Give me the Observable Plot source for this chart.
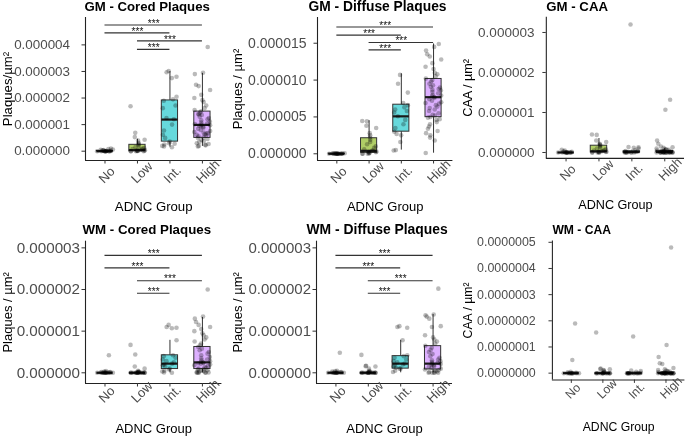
<!DOCTYPE html>
<html><head><meta charset="utf-8">
<script src="https://cdn.jsdelivr.net/npm/d3@7"></script>
<script src="https://cdn.jsdelivr.net/npm/@observablehq/plot@0.6"></script>
<style>
html,body{margin:0;padding:0;background:#fff;overflow:hidden;width:685px;height:437px;}
#wrap{position:relative;width:685px;height:437px;overflow:hidden;will-change:transform;}
.panel{position:absolute;}
.panel svg{overflow:visible;font-family:"Liberation Sans",Arial,Helvetica,sans-serif;background:transparent;}
g[aria-label="y-axis tick"], g[aria-label="x-axis tick"]{stroke:#333;}
g[aria-label="y-axis tick label"]{fill:#4d4d4d;}
</style></head><body><div id="wrap"></div>
<script>
// ---------- shared ----------
const groups = ["No", "Low", "Int.", "High"];
const groupColors = ["#F8766D", "#7CAE00", "#00BFC4", "#C77CFF"];
const xTitle = "ADNC Group";
const sigLabel = "***";

// ---------- GM - Cored Plaques (values x 1e-6 per µm²) ----------
const gmCoredNo = [0,0,0,0,0,0,0,0,0,0,0.01,0.01,0.02,0.02,0.03,0.04,0.05,0.06,0.08,0.1];
const gmCoredLow = [1.69,0.69,0.53,0.43,0.4,0.32,0.28,0.24,0.2,0.16,0.12,0.1,0.08,0.06,0.05,0.04,0.03,0.02,0.02,0.01,0.01,0,0,0,0];
const gmCoredInt = [3.02,2.97,2.8,2.75,2.05,1.95,1.9,1.72,1.62,1.25,1.2,1.0,0.78,0.62,0.5,0.36,0.3,0.25,0.2,0.18,0.15,0.28];
const gmCoredHigh = [3.92,2.95,2.9,2.5,2.45,2.3,2.12,2.0,1.92,1.85,1.72,1.62,1.55,1.5,1.45,1.4,1.36,1.3,1.25,1.2,1.16,1.12,1.08,1.04,1.0,0.98,0.95,0.92,0.88,0.84,0.8,0.76,0.72,0.68,0.64,0.6,0.56,0.52,0.5,0.46,0.42,0.38,0.35,0.3,0.27,0.24,0.22,0.2,0.18,0.62,0.66,1.02,0.96,1.38,0.7];
// box stats: [lower whisker, Q1, median, Q3, upper whisker]
const gmCoredBox = [[0,0,0,0.01,0.03],[0,0.005,0.04,0.24,0.45],[0.15,0.36,1.19,1.91,3.0],[0.18,0.5,0.99,1.49,2.93]];
// brackets: [group from, group to, height]
const gmCoredSig = [[1,4,4.75],[1,3,4.45],[2,4,4.15],[2,3,3.83]];

// ---------- GM - Diffuse Plaques (x 1e-6) ----------
const gmDiffNo = [0,0,0,0,0,0,0,0,0,0,0,0.01,0.02,0.03,0.04,0.05,0.06,0.08];
const gmDiffLow = [4.45,4.4,3.8,3.5,2.8,2.5,2.2,1.9,1.6,1.3,1.0,0.8,0.6,0.45,0.4,0.3,0.25,0.2,0.15,0.1,0.05,0.02,0,0];
const gmDiffInt = [10.7,9.5,8.3,6.9,6.6,6.3,6.0,5.8,5.6,5.1,4.6,4.0,3.5,3.0,2.7,2.5,1.6,0.5,0.45];
const gmDiffHigh = [14.9,14.5,14.0,13.5,13.2,12.8,12.3,11.8,11.5,11.0,10.8,10.5,10.2,10.0,9.8,9.5,9.3,9.1,9.0,8.8,8.7,8.6,8.4,8.2,8.0,7.9,7.8,7.7,7.6,7.4,7.2,7.0,6.9,6.8,6.6,6.4,6.2,6.0,5.8,5.5,5.3,5.2,5.0,4.9,4.7,4.6,4.3,4.0,3.7,3.4,3.1,2.8,2.5,2.2,1.8,0.1];
const gmDiffBox = [[0,0,0,0.01,0.03],[0,0.13,0.4,2.11,4.5],[0.5,3.0,5.08,6.66,10.85],[0.08,4.97,7.68,10.15,14.9]];
const gmDiffSig = [[1,4,17.2],[1,3,16.1],[2,4,15.1],[2,3,14.1]];

// ---------- GM - CAA (x 1e-6) ----------
const gmCaaNo = [0,0,0,0,0,0,0,0,0,0,0,0,0.01,0.02,0.03,0.05,0.07];
const gmCaaLow = [0.45,0.44,0.3,0.26,0.22,0.2,0.18,0.15,0.12,0.1,0.08,0.06,0.05,0.04,0.03,0.02,0.02,0.01,0.01,0,0,0,0,0];
const gmCaaInt = [3.2,0.14,0.13,0.12,0.1,0.06,0.04,0.03,0.02,0.01,0.01,0,0,0,0,0,0,0];
const gmCaaHigh = [1.32,1.07,0.3,0.22,0.15,0.13,0.12,0.1,0.09,0.08,0.07,0.06,0.05,0.04,0.04,0.03,0.03,0.02,0.02,0.02,0.01,0.01,0.01,0.01,0,0,0,0,0,0,0,0,0,0,0,0,0,0,0,0];
const gmCaaBox = [[0,0,0,0,0.01],[0,0.005,0.03,0.17,0.35],[0,0,0.01,0.03,0.06],[0,0,0.01,0.04,0.1]];
const gmCaaSig = [];

// ---------- WM - Cored Plaques (x 1e-6) ----------
const wmCoredNo = [0.42,0.04,0.03,0.02,0.02,0.01,0.01,0,0,0,0,0,0,0,0,0,0,0,0];
const wmCoredLow = [0.67,0.44,0.15,0.1,0.05,0.03,0.02,0.01,0.01,0,0,0,0,0,0,0,0,0,0,0,0,0,0,0];
const wmCoredInt = [1.15,1.1,1.08,1.07,0.78,0.42,0.4,0.36,0.32,0.28,0.25,0.22,0.2,0.18,0.15,0.1,0.08,0.05,0.03,0.01,0];
const wmCoredHigh = [2.0,1.35,1.3,1.22,1.15,1.1,1.05,1.0,0.95,0.9,0.85,0.8,0.75,0.7,0.66,0.62,0.58,0.54,0.5,0.46,0.42,0.38,0.35,0.32,0.3,0.28,0.26,0.25,0.24,0.23,0.22,0.2,0.18,0.16,0.14,0.12,0.1,0.09,0.08,0.06,0.05,0.04,0.03,0.02,0.01,0.01,0,0,0,0];
const wmCoredBox = [[0,0,0,0,0.02],[0,0,0,0,0.01],[0,0.09,0.22,0.42,0.78],[0,0.09,0.25,0.62,1.33]];
const wmCoredSig = [[1,4,2.82],[1,3,2.52],[2,4,2.21],[2,3,1.91]];

// ---------- WM - Diffuse Plaques (x 1e-6) ----------
const wmDiffNo = [0.48,0.05,0.04,0.03,0.02,0.01,0,0,0,0,0,0,0,0,0,0,0,0];
const wmDiffLow = [0.43,0.17,0.16,0.15,0.1,0.05,0.03,0.02,0.01,0,0,0,0,0,0,0,0,0,0,0,0,0,0];
const wmDiffInt = [1.12,1.1,1.08,0.78,0.42,0.4,0.36,0.32,0.28,0.25,0.22,0.2,0.18,0.15,0.12,0.1,0.1,0.05,0.02];
const wmDiffHigh = [2.02,1.4,1.38,1.35,1.3,1.12,1.1,0.9,0.85,0.8,0.75,0.7,0.65,0.6,0.55,0.5,0.45,0.4,0.36,0.32,0.3,0.28,0.26,0.24,0.22,0.21,0.2,0.18,0.16,0.14,0.12,0.1,0.08,0.06,0.05,0.03,0.02,0.01,0,0,0,0];
const wmDiffBox = [[0,0,0,0,0.02],[0,0,0,0,0.01],[0,0.1,0.22,0.4,0.78],[0,0.08,0.22,0.64,1.4]];
const wmDiffSig = [[1,4,2.82],[1,3,2.52],[2,4,2.21],[2,3,1.91]];

// ---------- WM - CAA (x 1e-7) ----------
const wmCaaNo = [1.9,0.5,0.05,0.03,0.02,0.01,0,0,0,0,0,0,0,0,0,0,0,0];
const wmCaaLow = [1.55,0.18,0.16,0.15,0.12,0.1,0.06,0.04,0.02,0,0,0,0,0,0,0,0,0,0,0,0,0,0];
const wmCaaInt = [1.4,0.1,0.08,0.05,0.02,0,0,0,0,0,0,0,0,0,0,0,0,0,0];
const wmCaaHigh = [4.8,1.08,0.62,0.38,0.35,0.2,0.15,0.12,0.1,0.08,0.06,0.05,0.04,0.03,0.02,0.01,0,0,0,0,0,0,0,0,0,0,0,0,0,0,0,0,0,0,0,0,0,0,0,0];
const wmCaaBox = [[0,0,0,0,0],[0,0,0,0,0.01],[0,0,0,0,0],[0,0,0,0.01,0.03]];
const wmCaaSig = [];

// ---------- panel layout (each sub-figure has its own scale, as in the source) ----------
const panels = [
  {title:"GM - Cored Plaques", ylabel:"Plaques/µm²", points:[gmCoredNo,gmCoredLow,gmCoredInt,gmCoredHigh], box:gmCoredBox, sig:gmCoredSig,
   ticks:[0,1,2,3,4], unit:1e-6, dec:6, domain:[-0.35,5.03],
   left:0, top:0, width:228, height:218, mL:85, mR:6.6, mT:17, mB:58,
   titleFs:13.2, tickFs:13.4, tickPad:12, labFs:13.2, xtFs:13, xtDy:23.5,
   tDx:-1, tDy:-6.5, yDx:-77.5, xDy:46.7},
  {title:"GM - Diffuse Plaques", ylabel:"Plaques / µm²", points:[gmDiffNo,gmDiffLow,gmDiffInt,gmDiffHigh], box:gmDiffBox, sig:gmDiffSig,
   ticks:[0,5,10,15], unit:1e-6, dec:6, domain:[-0.91,18.49],
   left:228, top:0, width:228, height:218, mL:89, mR:3.6, mT:17, mB:58,
   titleFs:13.8, tickFs:14, tickPad:7.5, labFs:13, xtFs:13, xtDy:23.5,
   tDx:-9, tDy:-6.5, yDx:-80, xDy:46.7},
  {title:"GM - CAA", ylabel:"CAA / µm²", points:[gmCaaNo,gmCaaLow,gmCaaInt,gmCaaHigh], box:gmCaaBox, sig:gmCaaSig,
   ticks:[0,1,2,3], unit:1e-6, dec:6, domain:[-0.148,3.38],
   left:456, top:0, width:232, height:218, mL:91, mR:1, mT:17, mB:58,
   titleFs:13.4, tickFs:13.7, tickPad:8.5, labFs:12.8, xtFs:13, xtDy:23.5,
   tDx:0, tDy:-6.5, yDx:-79, xDy:46.7},
  {title:"WM - Cored Plaques", ylabel:"Plaques / µm²", points:[wmCoredNo,wmCoredLow,wmCoredInt,wmCoredHigh], box:wmCoredBox, sig:wmCoredSig,
   ticks:[0,1,2,3], unit:1e-6, dec:6, domain:[-0.257,3.16],
   left:0, top:218, width:228, height:219, mL:85, mR:6.6, mT:22.7, mB:54,
   titleFs:13.3, tickFs:15.2, tickPad:2, labFs:13, xtFs:13, xtDy:20,
   tDx:-3, tDy:-7.7, yDx:-78, xDy:45.7},
  {title:"WM - Diffuse Plaques", ylabel:"Plaques / µm²", points:[wmDiffNo,wmDiffLow,wmDiffInt,wmDiffHigh], box:wmDiffBox, sig:wmDiffSig,
   ticks:[0,1,2,3], unit:1e-6, dec:6, domain:[-0.257,3.16],
   left:228, top:218, width:228, height:219, mL:88, mR:4, mT:22.7, mB:54,
   titleFs:13.9, tickFs:15, tickPad:2, labFs:13, xtFs:13, xtDy:20,
   tDx:-10, tDy:-7.7, yDx:-79, xDy:45.7},
  {title:"WM - CAA", ylabel:"CAA / µm²", points:[wmCaaNo,wmCaaLow,wmCaaInt,wmCaaHigh], box:wmCaaBox, sig:wmCaaSig,
   ticks:[0,1,2,3,4,5], unit:1e-7, dec:7, domain:[-0.26,5.05],
   left:456, top:218, width:234, height:219, mL:98, mR:0.6, mT:23, mB:54,
   titleFs:12.4, tickFs:12.7, tickPad:13.5, labFs:12.5, xtFs:12.5, xtDy:20,
   tDx:0, tDy:-7.3, yDx:-86, xDy:48}
];

const FONT = '"Liberation Sans",Arial,Helvetica,sans-serif';

// deterministic pseudo-random horizontal jitter (position only, not data)
function jitterOffset(g, k) {
  const s = Math.sin((k + 1) * 12.9898 + (g + 1) * 78.233) * 43758.5453;
  return (s - Math.floor(s)) - 0.5;
}

function makePanel(p) {
  const pts = [];
  p.points.forEach((arr, g) => arr.forEach((v, k) => pts.push({g, v, k})));
  const boxes = p.box.map((b, g) => ({g, lo: b[0], q1: b[1], med: b[2], q3: b[3], hi: b[4]}));
  const br = p.sig.map(b => ({a: b[0], b: b[1], y: b[2]}));
  const jit = d => d.g + 1 + jitterOffset(d.g, d.k) * 0.5;
  const [y0, y1] = p.domain;
  const half = 0.25;
  return Plot.plot({
    width: p.width, height: p.height,
    marginLeft: p.mL, marginRight: p.mR, marginTop: p.mT, marginBottom: p.mB,
    style: {fontFamily: FONT, background: "transparent", overflow: "visible"},
    x: {type: "linear", domain: [0.4, 4.6], axis: null},
    y: {type: "linear", domain: p.domain, axis: null},
    marks: [
      Plot.ruleX(boxes, {x: d => d.g + 1, y1: "q3", y2: "hi", stroke: "#333", strokeWidth: 1}),
      Plot.ruleX(boxes, {x: d => d.g + 1, y1: "lo", y2: "q1", stroke: "#333", strokeWidth: 1}),
      Plot.rect(boxes, {x1: d => d.g + 1 - half, x2: d => d.g + 1 + half, y1: "q1", y2: "q3",
        fill: d => groupColors[d.g], fillOpacity: 0.6, stroke: "#333", strokeWidth: 1}),
      Plot.ruleY(boxes, {y: "med", x1: d => d.g + 1 - half, x2: d => d.g + 1 + half, stroke: "#1a1a1a", strokeWidth: 2.2}),
      Plot.dot(pts, {x: jit, y: "v", r: 2.3, fill: "black", fillOpacity: 0.27, stroke: "none"}),
      Plot.ruleY(br, {x1: "a", x2: "b", y: "y", stroke: "#333", strokeWidth: 1.1}),
      Plot.text(br, {x: d => (d.a + d.b) / 2, y: "y", text: d => sigLabel, fontSize: 10, dy: -1.5, fill: "black", fillOpacity: 0.95}),
      // axis lines
      Plot.ruleX([0.4], {y1: y0, y2: y1, stroke: "#222", strokeWidth: 1.1}),
      Plot.ruleY([y0], {x1: 0.4, x2: 4.6, stroke: "#222", strokeWidth: 1.1}),
      Plot.axisY({ticks: p.ticks, tickFormat: d => (d * p.unit).toFixed(p.dec), tickSize: 3.5, tickPadding: p.tickPad, fontSize: p.tickFs, label: null}),
      Plot.axisX({ticks: [1, 2, 3, 4], tickFormat: () => "", tickSize: 3.5, label: null}),
      // rotated category labels
      Plot.text(groups, {x: (d, i) => i + 1, text: d => d, frameAnchor: "bottom", rotate: -45, textAnchor: "start", lineAnchor: "bottom",
        dx: -1, dy: p.xtDy, fontSize: p.xtFs, fill: "#4d4d4d"}),
      // titles
      Plot.text([p.title], {text: d => d, frameAnchor: "top-left", textAnchor: "start", lineAnchor: "bottom",
        dx: p.tDx, dy: p.tDy, fontSize: p.titleFs, fontWeight: "bold", fill: "black"}),
      Plot.text([p.ylabel], {text: d => d, frameAnchor: "left", rotate: -90, textAnchor: "middle", lineAnchor: "middle",
        dx: p.yDx, fontSize: p.labFs, fill: "black"}),
      Plot.text([xTitle], {text: d => d, frameAnchor: "bottom", textAnchor: "middle", lineAnchor: "middle",
        dy: p.xDy, fontSize: p.labFs, fill: "black"})
    ]
  });
}

const wrap = document.getElementById("wrap");
for (const p of panels) {
  const div = document.createElement("div");
  div.className = "panel";
  div.style.left = p.left + "px";
  div.style.top = p.top + "px";
  div.appendChild(makePanel(p));
  wrap.appendChild(div);
}
</script>
</body></html>
